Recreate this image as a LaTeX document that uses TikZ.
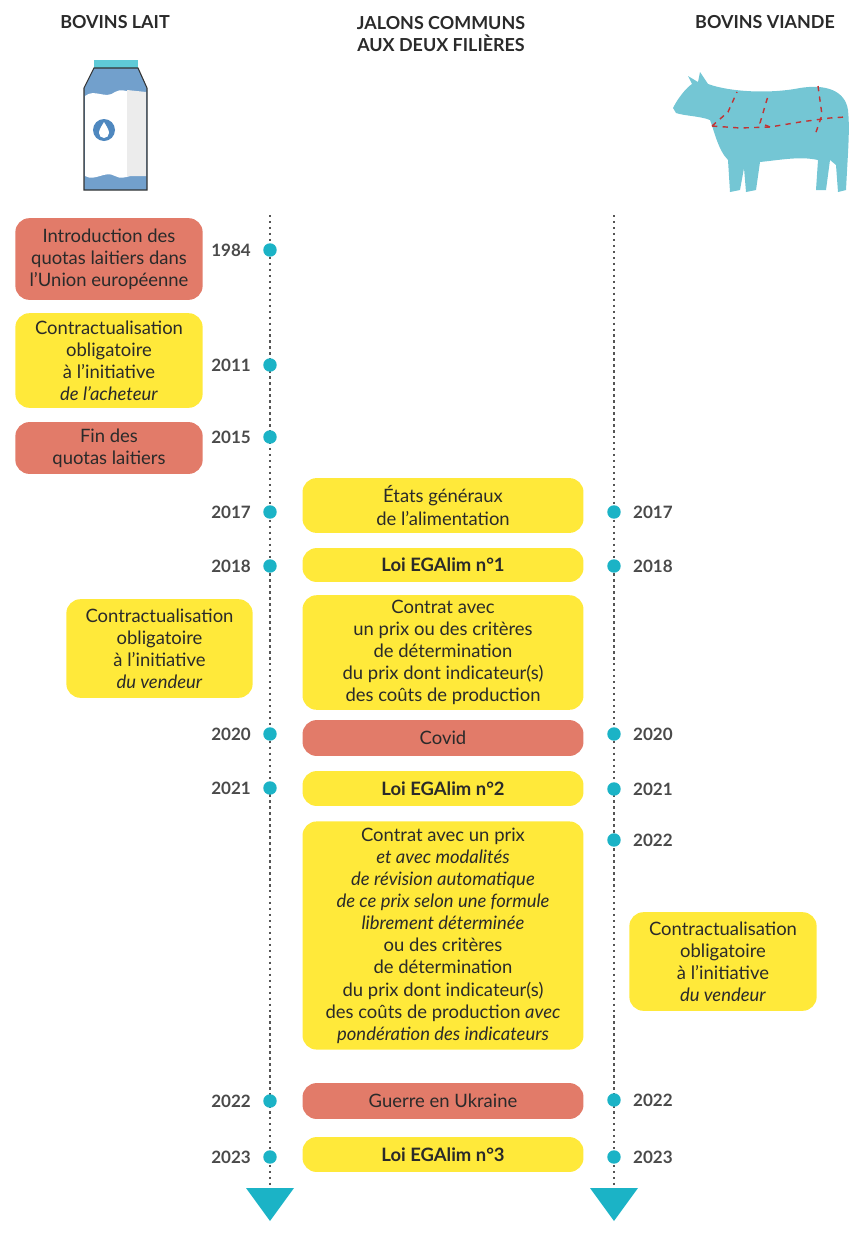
\documentclass[tikz,border=0pt]{standalone}
\usepackage{fontspec}
\setmainfont{Lato}
\definecolor{salmon}{HTML}{E27B69}
\definecolor{yel}{HTML}{FFE93A}
\definecolor{teal}{HTML}{1BB3C6}
\definecolor{cowc}{HTML}{74C6D4}
\definecolor{txt}{HTML}{2A2A2A}
\definecolor{milkb}{HTML}{4F88BF}
\begin{document}
\begin{tikzpicture}[x=0.02cm,y=-0.02cm,
  box/.style={rounded corners=8pt,align=center,text=txt,font=\fontsize{10.5}{12.6}\selectfont,inner sep=0pt},
  ybox/.style={box,fill=yel},
  sbox/.style={box,fill=salmon},
  yr/.style={font=\bfseries\fontsize{9.7}{11}\selectfont,text=txt!85},
  dot/.style={circle,fill=teal,inner sep=0pt,minimum size=13.5pt*0.567},
  head/.style={font=\bfseries\fontsize{10.2}{13}\selectfont,align=center,text=txt}]
\useasboundingbox (0,0) rectangle (868,1238);
% headings
\node[head] (h1) at (115,22) {BOVINS LAIT};
\node[head] (h2) at (441,34) {JALONS COMMUNS\\AUX DEUX FILIÈRES};
\node[head] (h3) at (765,22) {BOVINS VIANDE};
% milk carton
\fill[teal!70] (94,60) rectangle (138,72);
\fill[milkb!80] (84,88) -- (94,68) -- (138,68) -- (147,88) -- (147,190) -- (84,190) -- cycle;
\fill[white] (85,96) .. controls (95,88) and (105,100) .. (115,92) .. controls (125,86) and (135,98) .. (146,92) -- (146,176) .. controls (135,170) and (125,182) .. (115,176) .. controls (105,170) and (95,182) .. (85,176) -- cycle;
\fill[gray!15] (127,90) -- (146,92) -- (146,176) -- (127,176) -- cycle;
\draw[black!80,line width=0.6pt] (84,88) -- (94,68) -- (138,68) -- (147,88) -- (147,190) -- (84,190) -- cycle;
\fill[milkb] (104,130) circle (11);
\fill[white] (104,122) .. controls (101,127) and (99,130) .. (99,133) arc (180:0:5) .. controls (109,130) and (107,127) .. (104,122);
% cow
\fill[cowc] (673,108) .. controls (678,98) and (686,88) .. (692,84) -- (688,76) -- (698,82) -- (700,72) -- (708,84)
  .. controls (730,92) and (770,94) .. (800,88) .. controls (825,84) and (845,90) .. (848,110)
  .. controls (850,130) and (848,150) .. (846,190) -- (838,192) -- (836,165) -- (830,160) -- (826,190) -- (816,190) -- (818,160)
  .. controls (800,156) and (780,160) .. (760,162) -- (756,190) -- (746,192) -- (744,168) -- (740,190) -- (730,192) -- (728,160)
  .. controls (718,150) and (714,130) .. (710,120) .. controls (700,116) and (685,116) .. (676,113) -- cycle;
\draw[red!70!black!80,dashed,line width=0.8pt] (712,126) -- (740,128) -- (770,127) -- (800,122) -- (830,118) -- (845,117);
\draw[red!70!black!80,dashed,line width=0.8pt] (712,126) -- (728,112) -- (737,92);
\draw[red!70!black!80,dashed,line width=0.8pt] (770,127) -- (760,123) -- (768,96);
\draw[red!70!black!80,dashed,line width=0.8pt] (818,86) -- (822,115) -- (815,135);
% axes
\coordinate (la) at (270,215); \coordinate (lb) at (270,1185);
\coordinate (ra) at (614,215); \coordinate (rb) at (614,1185);
\draw[dotted,line width=1.4pt,txt!80] (la) -- (lb);
\draw[dotted,line width=1.4pt,txt!80] (ra) -- (rb);
\fill[teal] (246,1188) -- (294,1188) -- (270,1221) -- cycle;
\fill[teal] (590,1188) -- (638,1188) -- (614,1221) -- cycle;
% left dots and years
\foreach \y/\t [count=\i] in {250/1984,365/2011,437/2015,512/2017,566/2018,734/2020,788/2021,1101/2022,1157/2023}{
  \node[dot] (ld\i) at (270,\y) {};
  \node[yr,anchor=east] (ly\i) at (257,\y) {\t};}
\foreach \y/\t [count=\i] in {512/2017,566/2018,734/2020,789/2021,840/2022,1100/2022,1157/2023}{
  \node[dot] (rd\i) at (614,\y) {};
  \node[yr,anchor=west] (ry\i) at (627,\y) {\t};}
% left boxes
\node[sbox,minimum width=188*0.567pt,minimum height=82*0.567pt] (b1) at (109,259) {Introduction des\\quotas laitiers dans\\l’Union européenne};
\node[ybox,minimum width=188*0.567pt,minimum height=95*0.567pt] (b2) at (109,360.5) {Contractualisation\\obligatoire\\à l’initiative\\\textit{de l’acheteur}};
\node[sbox,minimum width=188*0.567pt,minimum height=52*0.567pt] (b3) at (109,448) {Fin des\\quotas laitiers};
\node[ybox,minimum width=187*0.567pt,minimum height=99*0.567pt] (b4) at (159.5,648.5) {Contractualisation\\obligatoire\\à l’initiative\\\textit{du vendeur}};
% center boxes
\tikzset{cw/.style={minimum width=282*0.567pt}}
\node[ybox,cw,minimum height=55*0.567pt] (c1) at (443,505.5) {États généraux\\de l’alimentation};
\node[ybox,cw,minimum height=34*0.567pt,font=\bfseries\fontsize{10.5}{12.6}\selectfont] (c2) at (443,565) {Loi EGAlim n°1};
\node[ybox,cw,minimum height=115*0.567pt] (c3) at (443,652.5) {Contrat avec\\un prix ou des critères\\de détermination\\du prix dont indicateur(s)\\des coûts de production};
\node[sbox,cw,minimum height=36*0.567pt] (c4) at (443,738) {Covid};
\node[ybox,cw,minimum height=35*0.567pt,font=\bfseries\fontsize{10.5}{12.6}\selectfont] (c5) at (443,788.5) {Loi EGAlim n°2};
\node[ybox,cw,minimum height=229*0.567pt] (c6) at (443,935.5) {Contrat avec un prix\\\textit{et avec modalités}\\\textit{de révision automatique}\\\textit{de ce prix selon une formule}\\\textit{librement déterminée}\\ou des critères\\de détermination\\du prix dont indicateur(s)\\des coûts de production \textit{avec}\\\textit{pondération des indicateurs}};
\node[sbox,cw,minimum height=36*0.567pt] (c7) at (443,1101) {Guerre en Ukraine};
\node[ybox,cw,minimum height=35*0.567pt,font=\bfseries\fontsize{10.5}{12.6}\selectfont] (c8) at (443,1154.5) {Loi EGAlim n°3};
% right box
\node[ybox,minimum width=188*0.567pt,minimum height=99*0.567pt] (r1) at (723,961.5) {Contractualisation\\obligatoire\\à l’initiative\\\textit{du vendeur}};
\end{tikzpicture}
\end{document}
